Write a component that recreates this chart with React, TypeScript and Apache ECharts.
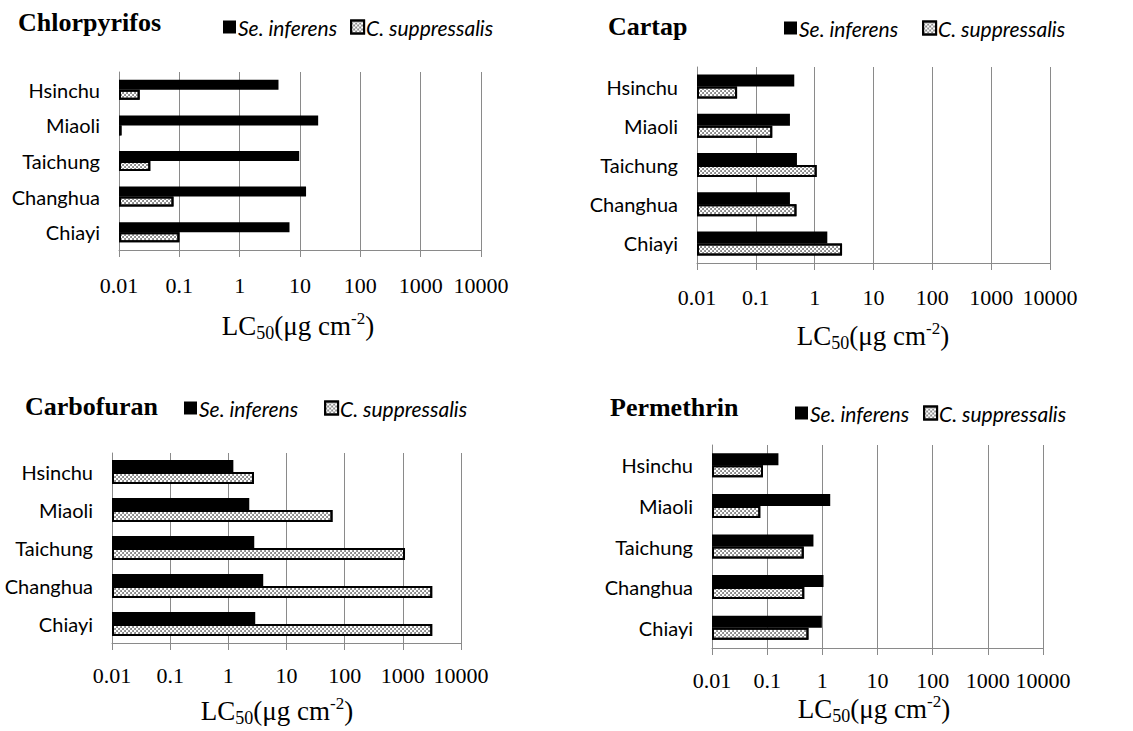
import React, { useEffect, useRef } from "react";
import * as echarts from "echarts";

const categories = ["Hsinchu", "Miaoli", "Taichung", "Changhua", "Chiayi"];
const tickLabels = ["0.01", "0.1", "1", "10", "100", "1000", "10000"];
const seriesNames = ["Se. inferens", "C. suppressalis"];
const panelTitles = ["Chlorpyrifos", "Cartap", "Carbofuran", "Permethrin"];

const chlorpyrifosSe = [4.4, 20, 9.7, 12.6, 6.7];
const chlorpyrifosCs = [0.022, 0.011, 0.033, 0.08, 0.1];
const cartapSe = [0.45, 0.38, 0.5, 0.38, 1.64];
const cartapCs = [0.048, 0.19, 1.08, 0.49, 2.92];
const carbofuranSe = [1.22, 2.29, 2.79, 3.98, 2.9];
const carbofuranCs = [2.76, 61.8, 1090, 3200, 3200];
const permethrinSe = [0.16, 1.39, 0.69, 1.05, 0.98];
const permethrinCs = [0.084, 0.075, 0.46, 0.47, 0.56];

const panelData = [
  [chlorpyrifosSe, chlorpyrifosCs],
  [cartapSe, cartapCs],
  [carbofuranSe, carbofuranCs],
  [permethrinSe, permethrinCs],
];

// layout per panel
const grids = [
  { left: 119, top: 72, width: 362, height: 178 },
  { left: 697, top: 67, width: 353, height: 196 },
  { left: 112, top: 453, width: 349, height: 190 },
  { left: 712, top: 445, width: 331, height: 203 },
];
const barWidths = [10, 12, 12, 12];
const labelMargins = [24, 23, 21, 21];
const titlePos = [
  { left: 18, top: 9 },
  { left: 608, top: 13 },
  { left: 25, top: 393 },
  { left: 610, top: 394 },
];
const legendPos = [
  { left: 223, top: 16, gap: 13 },
  { left: 784, top: 17, gap: 24 },
  { left: 184, top: 397, gap: 26 },
  { left: 795, top: 402, gap: 14 },
];
const axisTitlePos = [
  { x: 298, y: 326 },
  { x: 873, y: 336 },
  { x: 277, y: 711 },
  { x: 874, y: 709 },
];

const GRID_GRAY = "#8a8a8a";

const patternStyle = {
  color: "#ffffff",
  borderColor: "#000000",
  borderWidth: 2,
  decal: {
    symbol: "circle",
    symbolSize: 0.9,
    color: "#6a6a6a",
    dashArrayX: [
      [2, 2],
      [0, 2, 2, 0],
    ],
    dashArrayY: [2, 0],
    rotation: 0,
  },
};
const solidStyle = { color: "#000000", borderColor: "#000000", borderWidth: 0 };

export default function App() {
  const ref = useRef<HTMLDivElement>(null);
  useEffect(() => {
    if (!ref.current) return;
    const chart = echarts.init(ref.current, null, { renderer: "svg" });

    const xAxis = grids.map((_, i) => ({
      type: "log",
      gridIndex: i,
      logBase: 10,
      min: 0.01,
      max: 10000,
      startValue: 0.01,
      axisLine: { show: true, lineStyle: { color: GRID_GRAY, width: 1 } },
      axisTick: { show: true, length: 7, lineStyle: { color: GRID_GRAY } },
      splitLine: { show: true, lineStyle: { color: GRID_GRAY, width: 1 } },
      minorTick: { show: false },
      axisLabel: {
        margin: labelMargins[i],
        color: "#000",
        fontFamily: "Liberation Serif",
        fontSize: 22,
        formatter: (v: number) => tickLabels[Math.round(Math.log10(v)) + 2] ?? "",
      },
    }));

    const yAxis = grids.map((_, i) => ({
      type: "category",
      gridIndex: i,
      data: categories,
      inverse: true,
      axisLine: { show: true, lineStyle: { color: GRID_GRAY, width: 1 } },
      axisTick: { show: false },
      splitLine: { show: false },
      axisLabel: {
        margin: 19,
        color: "#000",
        fontFamily: "Lato",
        fontSize: 20,
      },
    }));

    const series: any[] = [];
    panelData.forEach((pair, i) => {
      pair.forEach((vals, k) => {
        series.push({
          type: "bar",
          name: seriesNames[k],
          xAxisIndex: i,
          yAxisIndex: i,
          data: vals,
          barWidth: barWidths[i],
          barGap: "0%",
          itemStyle: k === 0 ? solidStyle : patternStyle,
          emphasis: { disabled: true },
        });
      });
    });

    const axisTitleRich = {
      a: { fontFamily: "Liberation Serif", fontSize: 27, color: "#000", lineHeight: 32 },
      b: { fontFamily: "Liberation Serif", fontSize: 18, color: "#333", verticalAlign: "bottom", lineHeight: 18 },
      c: { fontFamily: "Liberation Serif", fontSize: 17, color: "#000", verticalAlign: "top", lineHeight: 17 },
    };

    chart.setOption({
      animation: false,
      backgroundColor: "#ffffff",
      title: panelTitles.map((t, i) => ({
        text: t,
        left: titlePos[i].left,
        top: titlePos[i].top,
        padding: 0,
        textStyle: {
          fontFamily: "Liberation Serif",
          fontWeight: "bold",
          fontSize: 26,
          color: "#000",
        },
      })),
      legend: legendPos.map((p) => ({
        left: p.left,
        top: p.top,
        padding: 0,
        itemGap: p.gap,
        itemWidth: 13,
        itemHeight: 13,
        icon: "rect",
        selectedMode: false,
        data: seriesNames,
        textStyle: {
          fontFamily: "Lato",
          fontStyle: "italic",
          fontSize: 21,
          lineHeight: 22,
          color: "#000",
          padding: [0, 0, 0, -3],
        },
      })),
      grid: grids.map((g) => ({ ...g, containLabel: false })),
      xAxis,
      yAxis,
      series,
      graphic: axisTitlePos.map((p) => ({
        type: "text",
        x: p.x,
        y: p.y,
        style: {
          text: "{a|LC}{b|50}{a|(μg cm}{c|-2}{a|)}",
          rich: axisTitleRich,
          align: "center",
          verticalAlign: "middle",
        },
      })),
    });

    return () => chart.dispose();
  }, []);

  return (
    <div
      ref={ref}
      style={{ position: "absolute", left: 0, top: 0, width: 1133, height: 731 }}
    />
  );
}
